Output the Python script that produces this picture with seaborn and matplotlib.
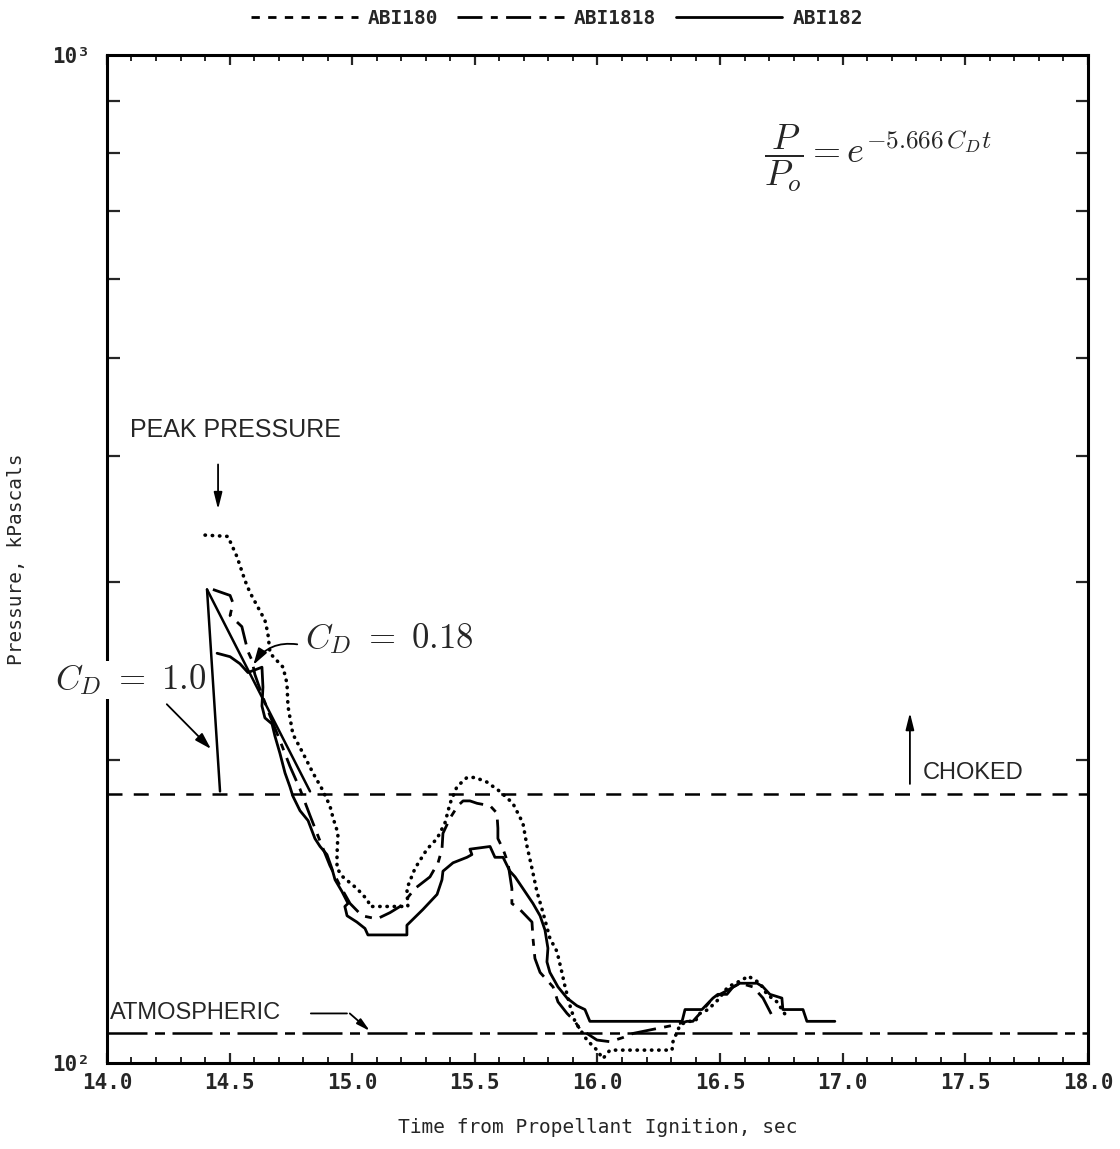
import numpy as np
import pandas as pd
import matplotlib
matplotlib.use("Agg")
import matplotlib.pyplot as plt
from matplotlib.lines import Line2D
import seaborn as sns

# ---------------- data ----------------
abi180_t = [14.400, 14.493, 14.530, 14.563, 14.583, 14.644, 14.656, 14.665, 14.718, 14.734,
            14.738, 14.758, 14.799, 14.840, 14.877, 14.909, 14.922, 14.942, 14.938, 14.938,
            14.962, 15.019, 15.064, 15.072, 15.227, 15.223, 15.256, 15.305, 15.346, 15.378,
            15.399, 15.427, 15.468, 15.501, 15.549, 15.602, 15.655, 15.696, 15.713, 15.733,
            15.753, 15.778, 15.806, 15.835, 15.855, 15.868, 15.888, 15.908, 15.929, 15.957,
            15.998, 16.022, 16.051, 16.304, 16.308, 16.336, 16.365, 16.398, 16.418, 16.451,
            16.491, 16.532, 16.593, 16.614, 16.663, 16.691, 16.732, 16.773]
abi180_p = [334, 333, 318, 301, 293, 275, 267, 255, 247, 238,
            226, 212, 203, 194, 187, 180, 175, 169, 161, 156,
            153, 149, 145, 143, 143, 149, 156, 163, 167, 173,
            181, 188, 192, 192, 190, 186, 181, 173, 164, 156,
            148, 141, 133, 129, 123, 119, 114, 110, 108, 105.4,
            103, 101, 103, 103, 105, 109, 110, 110, 112, 113,
            115.5, 119, 121, 122, 120, 117, 115, 111]

abi1818_t = [14.432, 14.502, 14.514, 14.502, 14.550, 14.563, 14.575, 14.591, 14.603, 14.632,
             14.665, 14.705, 14.746, 14.787, 14.828, 14.869, 14.909, 14.950, 14.991, 15.040,
             15.101, 15.154, 15.195, 15.227, 15.256, 15.317, 15.350, 15.366, 15.370, 15.399,
             15.431, 15.452, 15.480, 15.509, 15.562, 15.590, 15.594, 15.594, 15.615, 15.635,
             15.651, 15.651, 15.684, 15.733, 15.737, 15.745, 15.766, 15.819, 15.839, 15.876,
             15.908, 15.929, 15.957, 15.998, 16.051, 16.104, 16.145, 16.226, 16.308, 16.365,
             16.389, 16.418, 16.471, 16.528, 16.581, 16.634, 16.675, 16.724]
abi1818_p = [295, 291, 286, 278, 271, 263, 256, 251, 243, 232,
             221, 209, 197, 187, 176, 166, 157, 150, 144, 140,
             139, 141, 143, 146, 149, 153, 158, 163, 169, 175,
             180, 182, 182, 181, 180, 177, 171, 167, 163, 158,
             149, 144, 142, 138, 133, 127, 123, 119, 115, 112,
             110, 108, 107, 105.4, 105, 106, 107, 108, 109, 110,
             110, 112, 116, 118, 120, 119, 116, 110]

abi182_t = [14.449, 14.502, 14.542, 14.575, 14.632, 14.636, 14.632, 14.644, 14.673, 14.685,
            14.705, 14.726, 14.746, 14.758, 14.787, 14.820, 14.848, 14.869, 14.897, 14.917,
            14.930, 14.958, 14.983, 14.970, 14.979, 15.019, 15.052, 15.064, 15.223, 15.223,
            15.288, 15.346, 15.366, 15.370, 15.411, 15.468, 15.488, 15.480, 15.562, 15.582,
            15.615, 15.643, 15.664, 15.696, 15.737, 15.766, 15.786, 15.798, 15.794, 15.806,
            15.839, 15.876, 15.916, 15.949, 15.969, 16.345, 16.357, 16.426, 16.471, 16.491,
            16.528, 16.553, 16.581, 16.651, 16.675, 16.703, 16.752, 16.756, 16.838, 16.854,
            16.968]
abi182_p = [255, 253, 249, 244, 247, 236, 226, 220, 217, 211,
            203, 194, 188, 184, 178, 174, 167, 164, 161, 156,
            152, 148, 144, 143, 140, 138, 136, 134, 134, 137,
            142, 147, 152, 155, 158, 160, 161, 163, 164, 160,
            160, 155, 153, 149, 144, 140, 135.5, 130, 126, 123,
            119, 116, 114, 113, 110, 110, 113, 113, 116, 117,
            117, 119, 120, 120, 119, 117, 116, 113, 113, 110,
            110]

cd018_t = [14.408, 14.828]
cd018_p = [295, 186]
cd10_t = [14.408, 14.461]
cd10_p = [295, 186]

choked_p = 185
atmospheric_p = 107

series_names = ["ABI180", "ABI1818", "ABI182"]
x_ticks = [14.0, 14.5, 15.0, 15.5, 16.0, 16.5, 17.0, 17.5, 18.0]
x_tick_labels = ["14.0", "14.5", "15.0", "15.5", "16.0", "16.5", "17.0", "17.5", "18.0"]

# ---------------- plot ----------------
sns.set_style("white")
plt.rcParams["mathtext.fontset"] = "cm"
MONO = ["DejaVu Sans Mono"]
SANS = ["Liberation Sans", "DejaVu Sans"]

fig = plt.figure(figsize=(11.2, 11.49), dpi=100)
ax = fig.add_axes([0.0955, 0.0748, 0.8759, 0.8773])

df180 = pd.DataFrame({"t": abi180_t, "p": abi180_p})
df1818 = pd.DataFrame({"t": abi1818_t, "p": abi1818_p})
df182 = pd.DataFrame({"t": abi182_t, "p": abi182_p})

lw = 2.0
sns.lineplot(data=df180, x="t", y="p", sort=False, estimator=None, ax=ax,
             color="black", lw=2.6, linestyle=(0, (0.1, 1.9)), dash_capstyle="round")
sns.lineplot(data=df1818, x="t", y="p", sort=False, estimator=None, ax=ax,
             color="black", lw=lw, linestyle=(0, (9, 3, 2.5, 3)))
sns.lineplot(data=df182, x="t", y="p", sort=False, estimator=None, ax=ax,
             color="black", lw=lw, linestyle="-")
sns.lineplot(x=cd018_t, y=cd018_p, sort=False, estimator=None, ax=ax,
             color="black", lw=1.8)
sns.lineplot(x=cd10_t, y=cd10_p, sort=False, estimator=None, ax=ax,
             color="black", lw=1.8)

ax.axhline(choked_p, color="black", lw=1.8, linestyle=(0, (6, 4.5)))
ax.axhline(atmospheric_p, color="black", lw=1.8, linestyle=(0, (16, 3, 4, 3)))

ax.set_yscale("log")
ax.set_xlim(14, 18)
ax.set_ylim(100, 1000)

for s in ax.spines.values():
    s.set_linewidth(2.2)
    s.set_color("black")

ax.set_xticks(x_ticks)
ax.set_xticklabels(x_tick_labels, family=MONO, fontsize=15, fontweight="bold")
ax.set_xticks(np.arange(14.0, 18.0001, 0.1), minor=True)
ax.set_yticks([100, 1000])
ax.set_yticklabels(["10\u00b2", "10\u00b3"], family=MONO, fontsize=15, fontweight="bold")
ax.set_yticks([200, 300, 400, 500, 600, 700, 800, 900], minor=True)
ax.yaxis.set_minor_formatter(matplotlib.ticker.NullFormatter())
ax.tick_params(axis="x", which="major", direction="in", length=7, width=1.6,
               top=True, bottom=True, pad=7)
ax.tick_params(axis="x", which="minor", direction="in", length=4.5, width=1.4,
               top=True, bottom=True)
ax.tick_params(axis="y", which="major", direction="in", length=0, pad=12,
               left=True, right=True)
ax.tick_params(axis="y", which="minor", direction="in", length=9, width=1.6,
               left=True, right=True)

ax.set_xlabel("Time from Propellant Ignition, sec", family=MONO, fontsize=14, labelpad=18)
ax.set_ylabel("Pressure, kPascals", family=MONO, fontsize=14)
ax.yaxis.set_label_coords(-0.083, 0.5)

# annotations
ax.text(14.094, 425, "PEAK PRESSURE", family=SANS, fontsize=18, va="center", ha="left")
ax.annotate("", xy=(14.453, 352), xytext=(14.453, 395),
            arrowprops=dict(arrowstyle="-|>,head_length=1.0,head_width=0.25",
                            color="black", lw=1.3))

ax.text(13.79, 240, r"$C_D\ =\ 1.0$", fontsize=25, va="center", ha="left",
        clip_on=False, zorder=10,
        bbox=dict(facecolor="white", edgecolor="none", pad=1))
ax.annotate("", xy=(14.432, 204), xytext=(14.236, 228),
            arrowprops=dict(arrowstyle="-|>,head_length=1.0,head_width=0.3",
                            color="black", lw=1.3))

ax.text(14.807, 264, r"$C_D\ =\ 0.18$", fontsize=25, va="center", ha="left")
ax.annotate("", xy=(14.591, 247), xytext=(14.787, 260),
            arrowprops=dict(arrowstyle="-|>,head_length=1.0,head_width=0.3",
                            color="black", lw=1.3,
                            connectionstyle="arc3,rad=0.35"))

ax.text(17.327, 194, "CHOKED", family=SANS, fontsize=17, va="center", ha="left")
ax.annotate("", xy=(17.274, 224), xytext=(17.274, 188),
            arrowprops=dict(arrowstyle="-|>,head_length=1.0,head_width=0.25",
                            color="black", lw=1.3))

ax.text(14.012, 112, "ATMOSPHERIC", family=SANS, fontsize=17, va="center", ha="left")
ax.annotate("", xy=(14.99, 112), xytext=(14.82, 112),
            arrowprops=dict(arrowstyle="-", color="black", lw=1.3))
ax.annotate("", xy=(15.072, 107.6), xytext=(14.99, 112),
            arrowprops=dict(arrowstyle="-|>,head_length=0.8,head_width=0.2",
                            color="black", lw=1.3, shrinkA=0, shrinkB=0))

ax.text(0.670, 0.898, r"$\dfrac{P}{P_o} = e^{-5.666\,C_D t}$", transform=ax.transAxes,
        fontsize=26, va="center", ha="left")

# legend on top
handles = [Line2D([], [], color="black", lw=2, linestyle=(0, (3, 3))),
           Line2D([], [], color="black", lw=2, linestyle=(0, (9, 3, 2.5, 3))),
           Line2D([], [], color="black", lw=2, linestyle="-")]
fig.legend(handles, series_names, loc="center", bbox_to_anchor=(0.497, 0.984),
           ncol=3, frameon=False, handlelength=5.5, columnspacing=1.0, handletextpad=0.5,
           prop={"family": "DejaVu Sans Mono", "size": 14, "weight": "bold"})

fig.savefig("out.png", dpi=100)
